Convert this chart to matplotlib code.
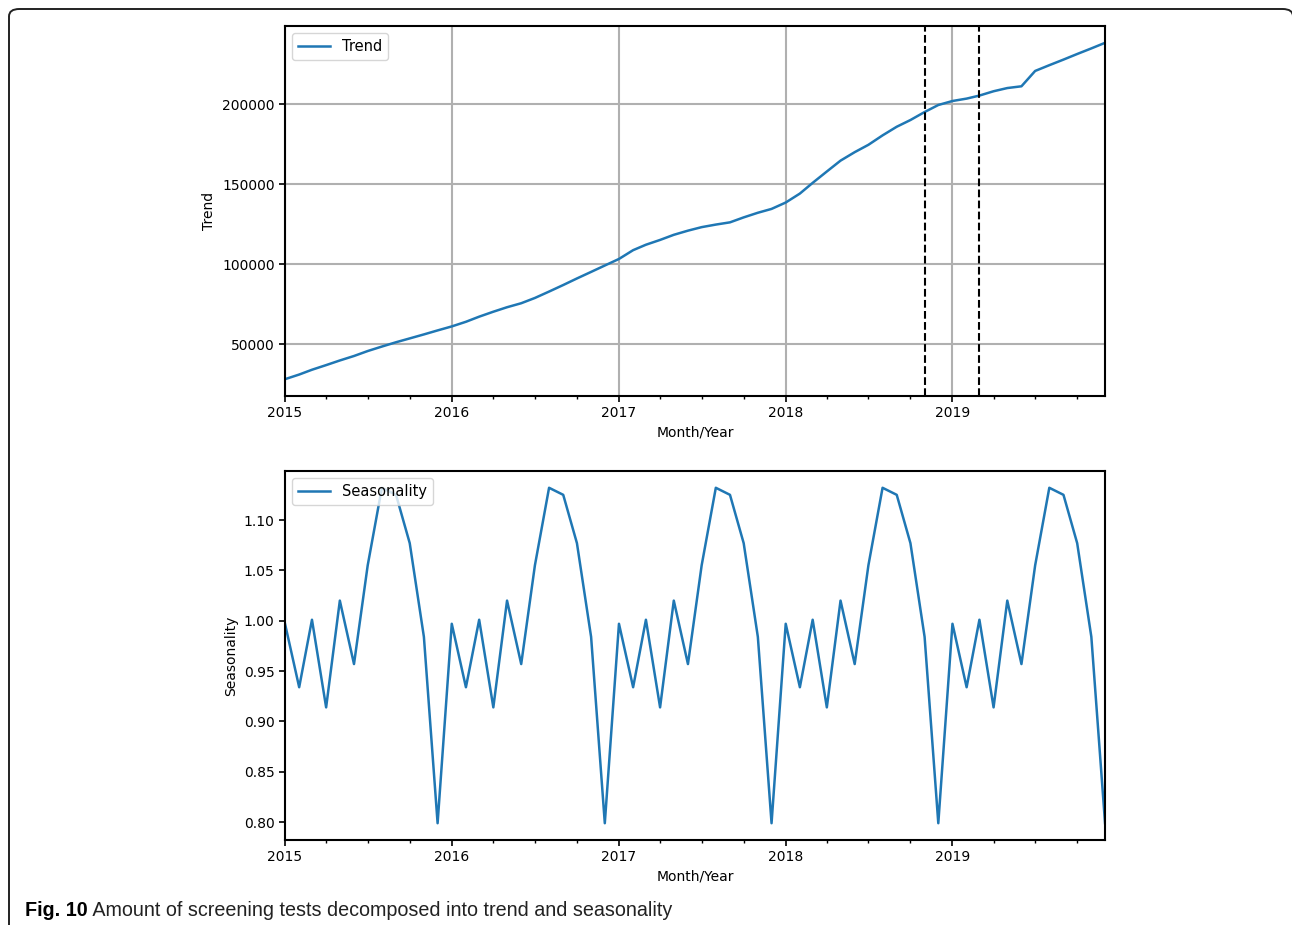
import matplotlib
matplotlib.use("Agg")
import matplotlib.pyplot as plt
import matplotlib.dates as mdates
from matplotlib.patches import FancyBboxPatch
import pandas as pd

months = pd.date_range("2015-01-01", "2019-12-01", freq="MS")

trend = [
    28100, 31000, 34000, 36900, 39800, 42600, 45700, 48500, 51200, 53600, 56100, 58600,
    61100, 64000, 67200, 70300, 73100, 75600, 78900, 82900, 87000, 91100, 95200, 99200,
    103300, 108800, 112200, 115200, 118400, 121000, 123200, 124800, 126200, 129300, 132200, 134600,
    138600, 144200, 150900, 158000, 164800, 170100, 174700, 180600, 186000, 190200, 195200, 199600,
    202100, 203600, 205500, 208200, 210200, 211300, 220900, 224500, 228000, 231500, 235000, 238500,
]

seasonality = [
    0.997, 0.934, 1.001, 0.914, 1.020, 0.957, 1.055, 1.132, 1.125, 1.077, 0.984, 0.799,
    0.997, 0.934, 1.001, 0.914, 1.020, 0.957, 1.055, 1.132, 1.125, 1.077, 0.984, 0.799,
    0.997, 0.934, 1.001, 0.914, 1.020, 0.957, 1.055, 1.132, 1.125, 1.077, 0.984, 0.799,
    0.997, 0.934, 1.001, 0.914, 1.020, 0.957, 1.055, 1.132, 1.125, 1.077, 0.984, 0.799,
    0.997, 0.934, 1.001, 0.914, 1.020, 0.957, 1.055, 1.132, 1.125, 1.077, 0.984, 0.799,
]

# test window marked on the trend panel
window = ["2018-11-01", "2019-03-01"]

caption_bold = "Fig. 10"
caption_text = " Amount of screening tests decomposed into trend and seasonality"

plt.rcParams["font.size"] = 10
plt.rcParams["axes.linewidth"] = 1.5

fig = plt.figure(figsize=(12.92, 9.25), dpi=100)
ax1 = fig.add_axes([0.2206, 0.5719, 0.6347, 0.4])
ax2 = fig.add_axes([0.2206, 0.0919, 0.6347, 0.3989])

ax1.plot(months, trend, color="#1f77b4", lw=1.8, label="Trend")
for d in window:
    ax1.axvline(pd.Timestamp(d), color="black", ls="--", lw=1.5)
ax1.grid(True, which="major", color="#b0b0b0", lw=1.5)
ax1.set_ylabel("Trend")

ax2.plot(months, seasonality, color="#1f77b4", lw=1.8, label="Seasonality")
ax2.set_ylabel("Seasonality")

for ax in (ax1, ax2):
    ax.set_xlim(months[0], months[-1])
    ax.xaxis.set_major_locator(mdates.YearLocator())
    ax.xaxis.set_major_formatter(mdates.DateFormatter("%Y"))
    ax.xaxis.set_minor_locator(mdates.MonthLocator(bymonth=[1, 4, 7, 10]))
    ax.tick_params(which="major", length=4, width=1.2)
    ax.tick_params(which="minor", length=2.5, width=1)
    for lab in ax.get_xticklabels():
        lab.set_rotation(0)
        lab.set_ha("center")
    ax.set_xlabel("Month/Year")
    ax.legend(loc="upper left", fontsize=10.5, handlelength=2.2)

# rounded frame around the figure, open past the bottom edge
frame = FancyBboxPatch((9 / 1292, -0.1), 1284 / 1292, 1.1 - 9 / 925, transform=fig.transFigure,
                       boxstyle="round,pad=0,rounding_size=0.008", fill=False,
                       ec="#222222", lw=1.4, clip_on=False)
fig.patches.append(frame)

cap_family = ["Liberation Sans Narrow", "Liberation Sans", "DejaVu Sans"]
t = fig.text(25 / 1292, 1 - 910 / 925, caption_bold, fontsize=14.2, fontweight="bold",
             family=cap_family, va="center", ha="left")
fig.canvas.draw()
bb = t.get_window_extent()
fig.text(bb.x1 / fig.bbox.width, 1 - 910 / 925, caption_text, fontsize=14.2,
         family=cap_family, va="center", ha="left", color="#222222")

fig.savefig("out.png", dpi=100)
